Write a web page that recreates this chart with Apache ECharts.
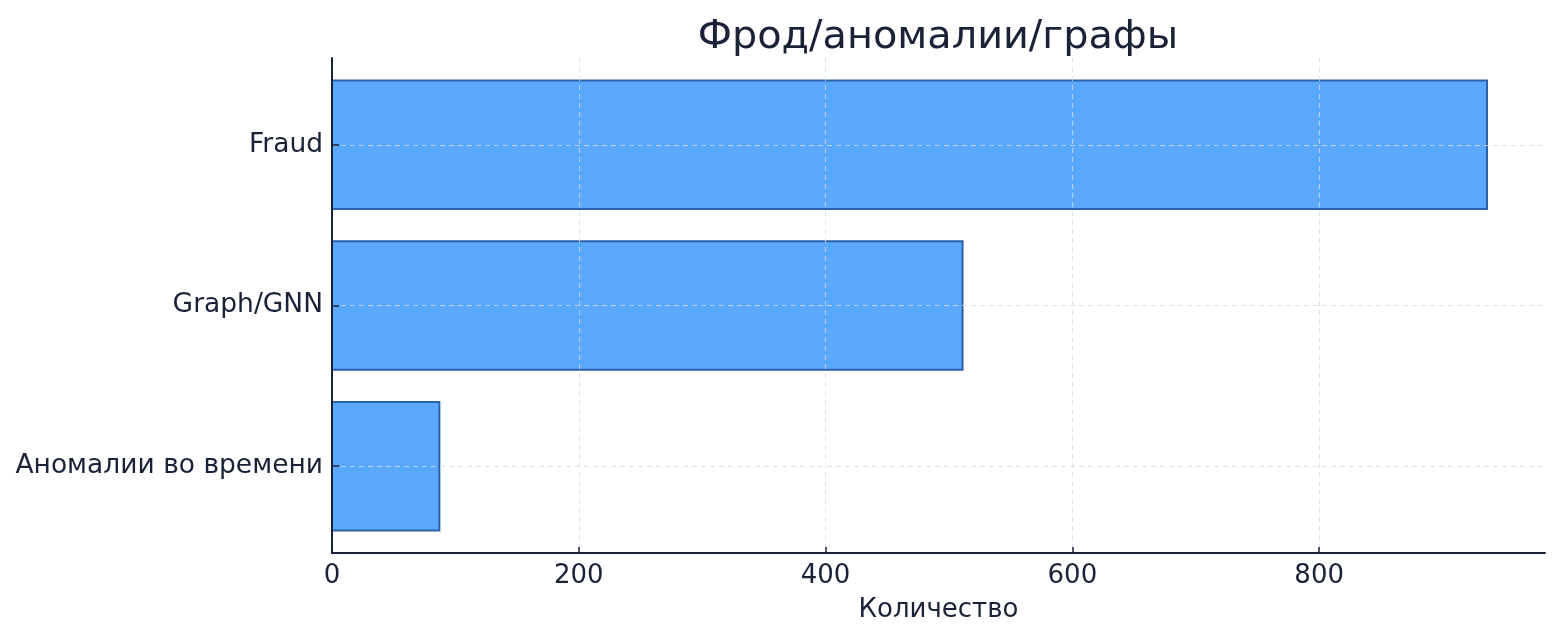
<!DOCTYPE html>
<html>
<head>
<meta charset="utf-8">
<script src="https://cdn.jsdelivr.net/npm/echarts@6/dist/echarts.min.js"></script>
<style>html,body{margin:0;padding:0;background:#fff;}#c{width:1560px;height:638px;}</style>
</head>
<body>
<div id="c"></div>
<script>
const categories = ['Fraud', 'Graph/GNN', 'Аномалии во времени'];
const values = [936, 511, 87];
const xTicks = [0, 200, 400, 600, 800];
const title = 'Фрод/аномалии/графы';
const xName = 'Количество';

const textColor = '#1a2238';
const font = 'DejaVu Sans';
const gridColor = 'rgba(212,219,229,0.8)';
const chart = echarts.init(document.getElementById('c'), null, {renderer: 'canvas'});
const idx = categories.map((_, i) => i);
chart.setOption({
  animation: false,
  title: {
    text: title, left: 933, top: 13, textAlign: 'center',
    textStyle: {fontFamily: font, fontSize: 39.8, fontWeight: 'normal', color: textColor}
  },
  grid: {left: 332, right: 15, top: 58, bottom: 85, containLabel: false},
  xAxis: {
    type: 'value', min: 0, max: 983, z: 5,
    name: xName, nameLocation: 'middle', nameGap: 44,
    nameTextStyle: {fontFamily: font, fontSize: 26, color: textColor},
    axisLine: {show: true, onZero: false, lineStyle: {color: textColor, width: 2}},
    axisTick: {show: true, inside: true, length: 6, lineStyle: {color: textColor, width: 1.5}, customValues: xTicks},
    axisLabel: {fontFamily: font, fontSize: 26, color: textColor, margin: 10, customValues: xTicks},
    splitLine: {show: true, lineStyle: {color: gridColor, type: [5, 4], width: 1}}
  },
  yAxis: {
    type: 'value', min: -0.54, max: 2.54, inverse: true, z: 5,
    axisLine: {show: true, onZero: false, lineStyle: {color: textColor, width: 2}},
    axisTick: {show: true, inside: true, length: 7, lineStyle: {color: textColor, width: 1.5}, customValues: idx},
    axisLabel: {
      fontFamily: font, fontSize: 26.5, color: textColor, margin: 9, customValues: idx,
      padding: [11, 0, 0, 0],
      formatter: v => categories[Math.round(v)]
    },
    splitLine: {show: true, lineStyle: {color: gridColor, type: [5, 4], width: 1}}
  },
  series: [{
    type: 'custom',
    data: values.map((v, i) => [v, i]),
    encode: {x: 0, y: 1},
    z: 2,
    renderItem: function (params, api) {
      const v = api.value(0), c = api.value(1);
      const p0 = api.coord([0, c - 0.4]);
      const p1 = api.coord([v, c + 0.4]);
      return {
        type: 'rect',
        shape: {x: p0[0], y: Math.min(p0[1], p1[1]), width: p1[0] - p0[0], height: Math.abs(p1[1] - p0[1])},
        style: {fill: '#5ba8ff', stroke: '#2b62a8', lineWidth: 2}
      };
    }
  }]
});
</script>
</body>
</html>
